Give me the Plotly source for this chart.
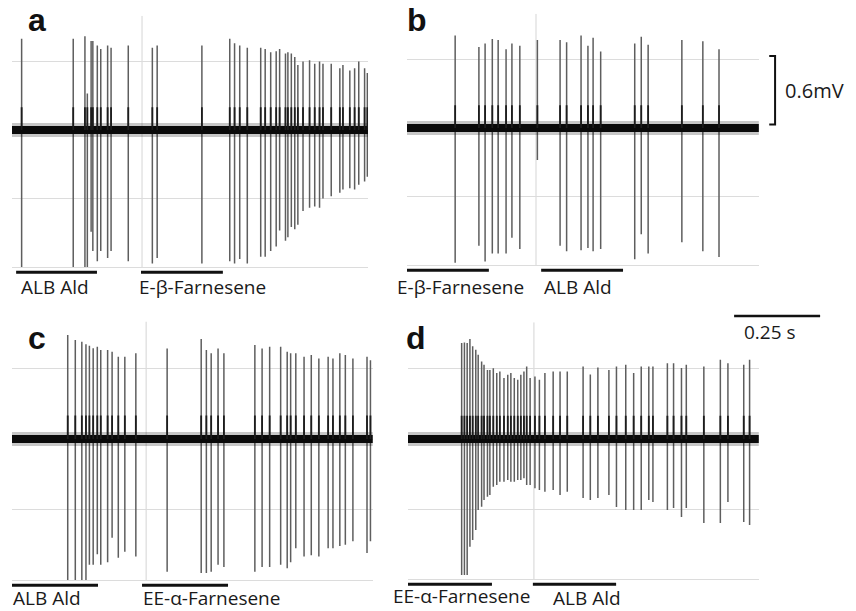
import plotly.graph_objects as go

W, H = 856, 611

# ---------------- data (time in s, potential in mV) ----------------
# Panel a
a_spike_t = [0.028, 0.178, 0.212, 0.219, 0.230, 0.235, 0.248, 0.258, 0.278, 0.288, 0.338,
             0.408, 0.422, 0.552, 0.633, 0.647, 0.662, 0.684, 0.723, 0.736, 0.752, 0.768,
             0.778, 0.795, 0.802, 0.812, 0.822, 0.831, 0.846, 0.865, 0.880, 0.894, 0.904,
             0.928, 0.953, 0.962, 0.982, 0.996, 1.008, 1.025, 1.033]
a_spike_top = [0.80, 0.80, 0.82, 0.32, 0.78, 0.78, 0.74, 0.71, 0.74, 0.72, 0.74,
               0.72, 0.74, 0.74, 0.80, 0.76, 0.74, 0.72, 0.72, 0.71, 0.68, 0.69,
               0.71, 0.67, 0.68, 0.67, 0.64, 0.57, 0.60, 0.61, 0.58, 0.60, 0.58,
               0.58, 0.54, 0.57, 0.52, 0.54, 0.60, 0.54, 0.50]
a_spike_bot = [-1.20, -1.20, -1.20, -1.20, -0.89, -1.06, -1.15, -1.06, -1.12, -1.06, -1.15,
               -1.17, -1.12, -1.17, -1.15, -1.17, -1.13, -1.17, -1.11, -1.11, -1.06, -1.02,
               -0.88, -0.97, -0.94, -0.85, -0.87, -0.83, -0.71, -0.68, -0.67, -0.68, -0.60,
               -0.58, -0.55, -0.52, -0.51, -0.52, -0.48, -0.45, -0.41]
a_duration = 1.035
a_grid_t = 0.378
a_stim_names = ["ALB Ald", "E-β-Farnesene"]
a_stim_on = [0.012, 0.375]
a_stim_off = [0.247, 0.613]

# Panel b
b_spike_t = [0.140, 0.209, 0.227, 0.248, 0.265, 0.288, 0.305, 0.328, 0.379, 0.445, 0.464,
             0.506, 0.526, 0.541, 0.563, 0.662, 0.681, 0.701, 0.799, 0.860, 0.907]
b_spike_top = [0.81, 0.71, 0.74, 0.78, 0.77, 0.69, 0.74, 0.72, 0.77, 0.77, 0.75,
               0.81, 0.72, 0.79, 0.67, 0.74, 0.80, 0.73, 0.77, 0.76, 0.69]
b_spike_bot = [-1.18, -1.03, -1.17, -1.10, -1.10, -1.10, -0.96, -1.06, -0.28, -1.03, -1.08,
               -1.07, -1.05, -1.08, -1.06, -1.15, -0.93, -1.10, -1.00, -1.08, -1.13]
b_duration = 1.023
b_grid_t = 0.375
b_stim_names = ["E-β-Farnesene", "ALB Ald"]
b_stim_on = [0.0, 0.390]
b_stim_off = [0.238, 0.628]

# Panel c
c_spike_t = [0.162, 0.184, 0.203, 0.215, 0.225, 0.236, 0.248, 0.258, 0.278, 0.291, 0.309,
             0.328, 0.360, 0.451, 0.550, 0.565, 0.579, 0.599, 0.616, 0.706, 0.727, 0.749,
             0.781, 0.800, 0.810, 0.825, 0.849, 0.870, 0.892, 0.919, 0.933, 0.953, 0.969,
             0.991, 1.032, 1.042]
c_spike_top = [0.885, 0.843, 0.828, 0.806, 0.794, 0.772, 0.786, 0.757, 0.757, 0.743, 0.700,
               0.700, 0.729, 0.771, 0.851, 0.757, 0.729, 0.771, 0.729, 0.800, 0.771, 0.786,
               0.786, 0.743, 0.729, 0.729, 0.700, 0.714, 0.686, 0.700, 0.686, 0.729, 0.714,
               0.686, 0.700, 0.671]
c_spike_bot = [-1.20, -1.20, -1.20, -1.20, -1.07, -1.07, -0.98, -1.07, -1.05, -0.84, -1.01,
               -0.96, -1.00, -1.13, -1.14, -1.14, -1.13, -1.07, -1.09, -1.13, -1.09, -1.09,
               -1.07, -1.10, -1.05, -0.93, -1.00, -0.99, -1.00, -0.93, -0.93, -0.91, -0.90,
               -0.87, -0.97, -0.87]
c_duration = 1.049
c_grid_t = 0.390
c_stim_names = ["ALB Ald", "EE-α-Farnesene"]
c_stim_on = [0.0, 0.378]
c_stim_off = [0.250, 0.628]

# Panel d
d_spike_t = [0.156, 0.164, 0.172, 0.180, 0.188, 0.197, 0.204, 0.214, 0.221, 0.231, 0.238,
             0.248, 0.258, 0.267, 0.279, 0.290, 0.299, 0.309, 0.319, 0.328, 0.337, 0.345,
             0.355, 0.369, 0.382, 0.398, 0.422, 0.442, 0.463, 0.509, 0.530, 0.552, 0.584,
             0.606, 0.633, 0.656, 0.678, 0.700, 0.712, 0.754, 0.772, 0.795, 0.809, 0.860,
             0.908, 0.930, 0.976, 0.993]
d_spike_top = [0.822, 0.827, 0.822, 0.857, 0.794, 0.765, 0.722, 0.665, 0.637, 0.592, 0.592,
               0.607, 0.565, 0.579, 0.522, 0.550, 0.565, 0.522, 0.507, 0.550, 0.579, 0.622,
               0.522, 0.536, 0.507, 0.565, 0.579, 0.579, 0.579, 0.622, 0.552, 0.612, 0.592,
               0.622, 0.636, 0.565, 0.622, 0.622, 0.622, 0.650, 0.650, 0.608, 0.636, 0.622,
               0.680, 0.650, 0.636, 0.680]
d_spike_bot = [-1.165, -1.165, -1.165, -0.923, -0.866, -0.780, -0.608, -0.580, -0.523, -0.494, -0.480,
               -0.409, -0.394, -0.366, -0.366, -0.351, -0.366, -0.366, -0.351, -0.351, -0.337, -0.394,
               -0.394, -0.423, -0.437, -0.451, -0.437, -0.480, -0.451, -0.506, -0.523, -0.506, -0.480,
               -0.583, -0.608, -0.608, -0.608, -0.523, -0.540, -0.608, -0.591, -0.669, -0.591, -0.720,
               -0.720, -0.540, -0.711, -0.737]
d_duration = 1.020
d_grid_t = 0.366
d_stim_names = ["EE-α-Farnesene", "ALB Ald"]
d_stim_on = [0.0, 0.363]
d_stim_off = [0.244, 0.605]

y_ticks = [-1.2, -0.6, 0.0, 0.6]
scale_v = 0.6     # mV
scale_t = 0.25    # s

# ---------------- layout geometry ----------------
PX_PER_S = 344.0
Y_MIN, Y_MAX = -1.28, 1.0
STIM_Y = -1.245

panels = [
    dict(letter="a", t=a_spike_t, top=a_spike_top, bot=a_spike_bot, dur=a_duration, grid=a_grid_t,
         names=a_stim_names, on=a_stim_on, off=a_stim_off, x0=12, base=130, k=114.2,
         lab_t=[0.022, 0.365], lab_dy=[15, 15], let_xy=(37, 20)),
    dict(letter="b", t=b_spike_t, top=b_spike_top, bot=b_spike_bot, dur=b_duration, grid=b_grid_t,
         names=b_stim_names, on=b_stim_on, off=b_stim_off, x0=407, base=128, k=114.2,
         lab_t=[-0.031, 0.396], lab_dy=[17, 17], let_xy=(417, 20)),
    dict(letter="c", t=c_spike_t, top=c_spike_top, bot=c_spike_bot, dur=c_duration, grid=c_grid_t,
         names=c_stim_names, on=c_stim_on, off=c_stim_off, x0=12, base=439, k=117.5,
         lab_t=[0.001, 0.379], lab_dy=[13, 13], let_xy=(37, 338)),
    dict(letter="d", t=d_spike_t, top=d_spike_top, bot=d_spike_bot, dur=d_duration, grid=d_grid_t,
         names=d_stim_names, on=d_stim_on, off=d_stim_off, x0=408, base=439, k=116.7,
         lab_t=[-0.046, 0.420], lab_dy=[12, 14], let_xy=(416, 338)),
]

fig = go.Figure()
annotations = []
shapes = []

SPIKE_COL = "#5e5e5e"


def seg_xy(ts, y0s, y1s):
    xs, ys = [], []
    for t, y0, y1 in zip(ts, y0s, y1s):
        xs += [t, t, None]
        ys += [y0, y1, None]
    return xs, ys


for i, p in enumerate(panels):
    n = "" if i == 0 else str(i + 1)
    xa, ya = "x" + n, "y" + n
    x1px = p["x0"] + p["dur"] * PX_PER_S
    top_px = p["base"] - Y_MAX * p["k"]
    bot_px = p["base"] - Y_MIN * p["k"]
    xdom = [p["x0"] / W, x1px / W]
    ydom = [1 - bot_px / H, 1 - top_px / H]
    p["xdom"], p["ydom"] = xdom, ydom

    def xp(t, p=p):
        return p["xdom"][0] + t / p["dur"] * (p["xdom"][1] - p["xdom"][0])

    def yp(v, p=p):
        return p["ydom"][0] + (v - Y_MIN) / (Y_MAX - Y_MIN) * (p["ydom"][1] - p["ydom"][0])

    p["xp"], p["yp"] = xp, yp

    # vertical grid line
    fig.add_trace(go.Scatter(x=[p["grid"], p["grid"]], y=[y_ticks[0], Y_MAX], mode="lines",
                             line=dict(color="#dcdcdc", width=1.2), xaxis=xa, yaxis=ya,
                             showlegend=False, hoverinfo="skip"))
    # spikes
    sx, sy = seg_xy(p["t"], p["bot"], p["top"])
    fig.add_trace(go.Scatter(x=sx, y=sy, mode="lines", line=dict(color=SPIKE_COL, width=1.5),
                             xaxis=xa, yaxis=ya, showlegend=False, hoverinfo="skip"))
    # noisy baseline band
    fig.add_trace(go.Scatter(x=[0, p["dur"]], y=[0, 0], mode="lines",
                             line=dict(color="rgba(0,0,0,0.22)", width=14),
                             xaxis=xa, yaxis=ya, showlegend=False, hoverinfo="skip"))
    fig.add_trace(go.Scatter(x=[0, p["dur"]], y=[0, 0], mode="lines",
                             line=dict(color="#0a0a0a", width=8),
                             xaxis=xa, yaxis=ya, showlegend=False, hoverinfo="skip"))
    # darker spike cores just above the baseline
    cx, cy = seg_xy(p["t"], [0.0] * len(p["t"]), [min(t, 0.2) for t in p["top"]])
    fig.add_trace(go.Scatter(x=cx, y=cy, mode="lines", line=dict(color="#1c1c1c", width=1.8),
                             xaxis=xa, yaxis=ya, showlegend=False, hoverinfo="skip"))
    # stimulus bars
    bx, by = [], []
    for on, off in zip(p["on"], p["off"]):
        bx += [on, off, None]
        by += [STIM_Y, STIM_Y, None]
    fig.add_trace(go.Scatter(x=bx, y=by, mode="lines", line=dict(color="#111111", width=3),
                             xaxis=xa, yaxis=ya, showlegend=False, hoverinfo="skip"))
    # stimulus labels
    bar_px = p["base"] - STIM_Y * p["k"]
    for name, lt, dy in zip(p["names"], p["lab_t"], p["lab_dy"]):
        annotations.append(dict(text=name, x=xp(lt), y=1 - (bar_px + dy) / H, xref="paper", yref="paper",
                                xanchor="left", yanchor="middle", showarrow=False, borderpad=0,
                                font=dict(family="Open Sans", size=19, color="#1a1a1a")))
    # panel letter
    lx, ly = p["let_xy"]
    annotations.append(dict(text="<b>%s</b>" % p["letter"], x=lx / W, y=1 - ly / H,
                            xref="paper", yref="paper", xanchor="center", yanchor="middle",
                            showarrow=False, font=dict(family="Liberation Sans", size=32, color="#111")))

    fig.update_layout(**{
        ("xaxis" + n): dict(domain=xdom, range=[0, p["dur"]], anchor=ya, showgrid=False,
                            zeroline=False, showticklabels=False, ticks="", showline=False,
                            fixedrange=True),
        ("yaxis" + n): dict(domain=ydom, range=[Y_MIN, Y_MAX], anchor=xa, tickvals=y_ticks,
                            showgrid=True, gridcolor="#dcdcdc", gridwidth=1.2, zeroline=False,
                            showticklabels=False, ticks="", showline=False, fixedrange=True),
    })

# 0.6 mV scale bracket (panel b)
pb = panels[1]
bx_t = pb["dur"] + 0.047
x_br = pb["xp"](bx_t)
x_tk = pb["xp"](bx_t - 0.017)
y_lo = pb["yp"](0.03)
y_hi = pb["yp"](0.03 + scale_v)
shapes.append(dict(type="path", xref="paper", yref="paper",
                   path="M %f %f L %f %f L %f %f L %f %f" % (x_tk, y_hi, x_br, y_hi, x_br, y_lo, x_tk, y_lo),
                   line=dict(color="#111", width=2)))
annotations.append(dict(text="%.1fmV" % scale_v, x=pb["xp"](bx_t + 0.023), y=pb["yp"](0.03 + scale_v / 2),
                        xref="paper", yref="paper", xanchor="left", yanchor="middle", showarrow=False,
                        font=dict(family="Open Sans", size=20, color="#1a1a1a")))

# 0.25 s scale bar (above panel d)
pd_ = panels[3]
t0 = 0.948
shapes.append(dict(type="line", xref="paper", yref="paper",
                   x0=pd_["xp"](t0), x1=pd_["xp"](t0 + scale_t), y0=pd_["yp"](1.054), y1=pd_["yp"](1.054),
                   line=dict(color="#111", width=2.5)))
annotations.append(dict(text="%.2f s" % scale_t, x=pd_["xp"](t0 + scale_t / 2 - 0.02), y=pd_["yp"](0.92),
                        xref="paper", yref="paper", xanchor="center", yanchor="middle", showarrow=False,
                        font=dict(family="Open Sans", size=19, color="#1a1a1a")))

fig.update_layout(width=W, height=H, margin=dict(l=0, r=0, t=0, b=0),
                  paper_bgcolor="white", plot_bgcolor="white",
                  annotations=annotations, shapes=shapes, showlegend=False)

fig.write_html("out.html", config={"displayModeBar": False},
               post_script="document.body.style.margin='0';document.body.style.overflow='hidden';")
